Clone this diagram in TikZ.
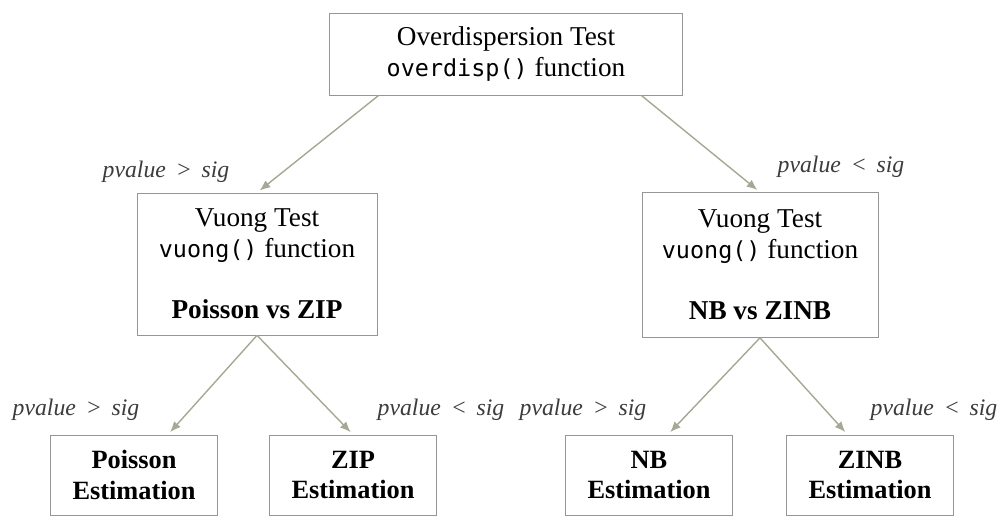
\documentclass[tikz,border=0pt]{standalone}
\usepackage{fontspec}
\setmainfont{Liberation Serif}
\setmonofont{DejaVu Sans Mono}[Scale=0.86]
\usetikzlibrary{arrows.meta}
\definecolor{boxgray}{RGB}{150,150,150}
\definecolor{arrowgray}{RGB}{165,168,148}
\definecolor{labelgray}{RGB}{60,60,60}

\begin{document}
\begin{tikzpicture}[x=0.02cm, y=-0.02cm]
\tikzstyle{every node} = [font = \fontsize{15.5}{17.5}\selectfont]
\tikzstyle{testbox} = [draw = boxgray, align = center, inner sep = 0pt]
\tikzstyle{estbox} = [testbox, minimum width = 3.34cm, minimum height = 1.6cm, font = \fontsize{15}{17.5}\selectfont\bfseries]
\tikzstyle{cond} = [font = \fontsize{13.5}{14}\selectfont\itshape, text = labelgray, inner sep = 1pt]
\tikzstyle{flow} = [draw = arrowgray, thick, -{Latex[length=6pt, width=5pt]}, shorten > = 2pt]

\useasboundingbox (0,0) rectangle (1000,517);

% top test
\node [testbox, minimum width = 7.06cm, minimum height = 1.64cm] (overdisp) at (506,54)
    {Overdispersion Test\\\texttt{overdisp()} function};

% vuong tests
\node [testbox, minimum width = 4.8cm, minimum height = 2.84cm] (vuongL) at (257,264)
    {Vuong Test\\\texttt{vuong()} function\\[17.5pt]\textbf{Poisson vs ZIP}};
\node [testbox, minimum width = 4.72cm, minimum height = 2.9cm] (vuongR) at (760,265)
    {Vuong Test\\\texttt{vuong()} function\\[17.5pt]\textbf{NB vs ZINB}};

% estimations
\node [estbox] (poisson) at (134,475) {Poisson\\Estimation};
\node [estbox] (zip) at (353,475) {ZIP\\Estimation};
\node [estbox] (nb) at (649,475) {NB\\Estimation};
\node [estbox] (zinb) at (870,475) {ZINB\\Estimation};

\draw [flow] (overdisp.-162) -- (vuongL.north);
\draw [flow] (overdisp.-17) -- (vuongR.north);
\draw [flow] (vuongL.south) -- (poisson.50);
\draw [flow] (vuongL.south) -- (zip.north);
\draw [flow] (vuongR.south) -- (nb.65);
\draw [flow] (vuongR.south) -- (zinb.119);

% conditions
\node [cond] (c1) at (166,172) {pvalue \,>\, sig};
\node [cond] (c2) at (841,167) {pvalue \,<\, sig};
\node [cond] (c3) at (76,410) {pvalue \,>\, sig};
\node [cond] (c4) at (441,410) {pvalue \,<\, sig};
\node [cond] (c5) at (583,410) {pvalue \,>\, sig};
\node [cond] (c6) at (934,410) {pvalue \,<\, sig};
\end{tikzpicture}
\end{document}
